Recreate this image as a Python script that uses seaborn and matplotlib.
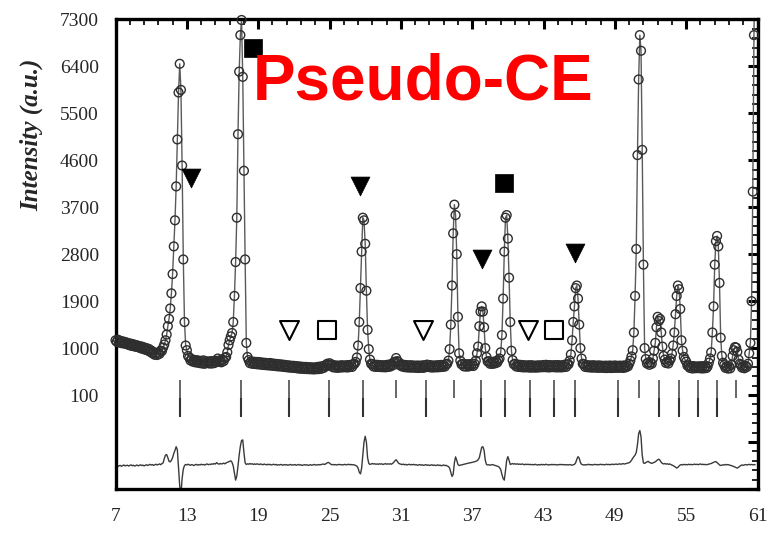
import numpy as np
import pandas as pd
import matplotlib
matplotlib.use("Agg")
import matplotlib.pyplot as plt
import seaborn as sns

# ---------------- data ----------------
two_theta_start = 7.0   # first sampled angle (deg)
two_theta_step = 0.1    # sampling step (deg)

# observed intensity, one row per degree (x.0 ... x.9)
intensity_obs = [
    1150, 1120, 1162, 1108, 1140, 1095, 1130, 1088, 1118, 1080,   # 7
    1102, 1060, 1090, 1045, 1080, 1038, 1066, 1025, 1055, 1018,   # 8
    1040, 998, 1030, 985, 1015, 968, 1000, 955, 985, 930,         # 9
    955, 900, 925, 872, 905, 868, 915, 890, 950, 945,             # 10
    1010, 1070, 1150, 1260, 1420, 1560, 1760, 2050, 2420, 2950,   # 11
    3450, 4100, 5000, 5900, 6450, 5950, 4500, 2700, 1500, 1050,   # 12
    960, 850, 820, 765, 790, 740, 775, 728, 770, 722,             # 13
    760, 712, 755, 705, 765, 700, 748, 718, 742, 705,             # 14
    750, 705, 748, 712, 758, 735, 800, 740, 770, 728,             # 15
    775, 752, 815, 830, 920, 1060, 1150, 1225, 1290, 1500,        # 16
    2000, 2650, 3500, 5100, 6300, 7000, 7290, 6200, 4400, 2700,   # 17
    1100, 830, 770, 712, 745, 700, 740, 696, 735, 690,            # 18
    735, 688, 728, 680, 722, 676, 718, 672, 712, 668,             # 19
    715, 665, 705, 660, 700, 654, 696, 650, 690, 648,             # 20
    685, 640, 680, 636, 672, 630, 668, 626, 662, 622,             # 21
    660, 618, 655, 612, 650, 606, 645, 604, 640, 600,             # 22
    640, 598, 636, 596, 632, 594, 630, 592, 628, 596,             # 23
    640, 598, 646, 604, 652, 620, 668, 650, 700, 676,             # 24
    710, 660, 685, 632, 670, 626, 666, 622, 664, 628,             # 25
    672, 630, 668, 634, 670, 628, 676, 636, 680, 640,             # 26
    690, 700, 735, 820, 1050, 1500, 2150, 2850, 3500, 3450,       # 27
    3000, 2100, 1350, 980, 780, 700, 690, 648, 682, 640,          # 28
    680, 640, 676, 636, 672, 634, 670, 632, 678, 638,             # 29
    684, 646, 692, 668, 730, 740, 810, 750, 735, 672,             # 30
    690, 648, 682, 636, 676, 630, 670, 628, 672, 626,             # 31
    668, 626, 664, 622, 666, 620, 664, 624, 668, 622,             # 32
    672, 636, 684, 640, 676, 630, 668, 628, 666, 632,             # 33
    670, 632, 674, 636, 678, 640, 676, 646, 690, 700,             # 34
    760, 980, 1450, 2200, 3200, 3750, 3550, 2800, 1600, 900,      # 35
    760, 690, 700, 650, 694, 646, 690, 648, 692, 660,             # 36
    700, 658, 700, 760, 900, 1030, 1420, 1700, 1800, 1700,        # 37
    1400, 1000, 830, 745, 750, 700, 735, 698, 740, 706,           # 38
    748, 722, 765, 800, 920, 1250, 1950, 2850, 3500, 3550,        # 39
    3100, 2350, 1500, 950, 770, 690, 700, 648, 684, 640,          # 40
    680, 636, 676, 630, 670, 632, 668, 630, 672, 626,             # 41
    672, 628, 664, 626, 666, 628, 670, 632, 668, 634,             # 42
    676, 636, 680, 632, 676, 630, 672, 636, 670, 634,             # 43
    674, 630, 676, 632, 668, 630, 672, 636, 684, 640,             # 44
    690, 690, 760, 880, 1150, 1500, 1800, 2150, 2200, 1950,       # 45
    1450, 1000, 800, 700, 690, 640, 676, 634, 670, 630,           # 46
    668, 626, 672, 628, 664, 624, 668, 622, 666, 626,             # 47
    660, 620, 664, 618, 662, 622, 666, 618, 660, 622,             # 48
    668, 624, 660, 622, 664, 626, 662, 620, 668, 630,             # 49
    668, 650, 700, 760, 840, 960, 1300, 2000, 2900, 4700,         # 50
    6150, 7000, 6700, 4800, 2600, 1000, 790, 705, 725, 680,       # 51
    725, 700, 800, 950, 1100, 1400, 1600, 1520, 1560, 1300,       # 52
    1030, 850, 780, 715, 740, 705, 760, 800, 890, 1050,           # 53
    1300, 1650, 2000, 2200, 2130, 1750, 1150, 950, 830, 780,      # 54
    740, 665, 670, 622, 652, 610, 656, 614, 646, 616,             # 55
    650, 616, 652, 610, 654, 612, 646, 618, 650, 720,             # 56
    800, 920, 1300, 1800, 2600, 3050, 3150, 2950, 2250, 1200,     # 57
    850, 720, 675, 622, 652, 608, 654, 612, 680, 850,             # 58
    960, 1020, 1010, 930, 780, 700, 675, 625, 656, 614,           # 59
    660, 640, 700, 900, 1100, 1900, 4000, 7000, 9000,             # 60
]

# difference curve (Yobs - Ycalc, shifted), same sampling
difference = [
    -1262, -1250, -1270, -1255, -1248, -1265, -1252, -1240, -1258, -1250,  # 7
    -1245, -1260, -1248, -1238, -1255, -1244, -1262, -1250, -1240, -1256,  # 8
    -1248, -1236, -1252, -1242, -1258, -1246, -1235, -1250, -1240, -1228,  # 9
    -1242, -1232, -1248, -1236, -1225, -1240, -1230, -1220, -1235, -1215,  # 10
    -1200, -1120, -1050, -1040, -1100, -1170, -1180, -1150, -1100, -1020,  # 11
    -960, -890, -950, -1300, -1650, -1800, -1500, -1320, -1250, -1230,     # 12
    -1240, -1225, -1238, -1246, -1232, -1240, -1250, -1236, -1228, -1244,  # 13
    -1232, -1240, -1226, -1236, -1230, -1242, -1228, -1220, -1235, -1226,  # 14
    -1230, -1218, -1226, -1212, -1222, -1195, -1215, -1225, -1212, -1220,  # 15
    -1215, -1205, -1218, -1200, -1190, -1180, -1170, -1160, -1190, -1260,  # 16
    -1400, -1530, -1450, -1260, -1050, -880, -770, -760, -1000, -1200,     # 17
    -1230, -1218, -1226, -1212, -1224, -1216, -1230, -1220, -1228, -1218,  # 18
    -1225, -1232, -1220, -1228, -1236, -1222, -1230, -1238, -1226, -1234,  # 19
    -1228, -1240, -1232, -1226, -1238, -1230, -1244, -1234, -1240, -1230,  # 20
    -1236, -1244, -1232, -1240, -1234, -1246, -1238, -1230, -1242, -1236,  # 21
    -1240, -1232, -1246, -1238, -1230, -1244, -1236, -1248, -1240, -1234,  # 22
    -1242, -1236, -1248, -1240, -1234, -1246, -1238, -1230, -1242, -1236,  # 23
    -1240, -1232, -1238, -1230, -1226, -1222, -1230, -1215, -1200, -1190,  # 24
    -1205, -1225, -1236, -1230, -1238, -1232, -1240, -1234, -1228, -1236,  # 25
    -1232, -1240, -1234, -1228, -1238, -1232, -1226, -1236, -1230, -1238,  # 26
    -1234, -1240, -1250, -1262, -1300, -1380, -1410, -1300, -1050, -800,   # 27
    -690, -800, -1100, -1210, -1230, -1220, -1212, -1222, -1216, -1226,    # 28
    -1220, -1228, -1216, -1224, -1218, -1230, -1222, -1214, -1226, -1218,  # 29
    -1224, -1216, -1226, -1210, -1190, -1160, -1140, -1170, -1205, -1218,  # 30
    -1226, -1232, -1224, -1236, -1228, -1240, -1232, -1226, -1238, -1230,  # 31
    -1236, -1228, -1240, -1234, -1246, -1238, -1232, -1244, -1236, -1248,  # 32
    -1240, -1234, -1246, -1238, -1250, -1242, -1236, -1248, -1240, -1252,  # 33
    -1244, -1238, -1250, -1242, -1256, -1248, -1240, -1252, -1246, -1260,  # 34
    -1270, -1300, -1380, -1460, -1420, -1200, -1085, -1150, -1230, -1250,  # 35
    -1244, -1238, -1232, -1226, -1220, -1214, -1210, -1204, -1200, -1196,  # 36
    -1190, -1185, -1178, -1170, -1160, -1140, -1100, -1000, -900, -890,    # 37
    -960, -1150, -1230, -1240, -1236, -1244, -1238, -1232, -1240, -1250,   # 38
    -1256, -1262, -1270, -1290, -1330, -1420, -1500, -1530, -1350, -1150,  # 39
    -1080, -1150, -1230, -1220, -1212, -1224, -1216, -1226, -1218, -1228,  # 40
    -1222, -1230, -1220, -1228, -1236, -1224, -1232, -1226, -1234, -1228,  # 41
    -1236, -1230, -1238, -1226, -1234, -1242, -1232, -1240, -1228, -1236,  # 42
    -1230, -1238, -1226, -1234, -1240, -1232, -1238, -1228, -1236, -1230,  # 43
    -1238, -1232, -1240, -1234, -1228, -1236, -1230, -1238, -1232, -1240,  # 44
    -1234, -1240, -1232, -1238, -1244, -1236, -1228, -1200, -1130, -1080,  # 45
    -1110, -1190, -1228, -1236, -1242, -1234, -1240, -1232, -1226, -1238,  # 46
    -1232, -1240, -1234, -1228, -1236, -1230, -1238, -1232, -1226, -1234,  # 47
    -1230, -1238, -1232, -1226, -1234, -1228, -1236, -1230, -1224, -1232,  # 48
    -1228, -1222, -1230, -1224, -1218, -1226, -1220, -1214, -1222, -1216,  # 49
    -1210, -1204, -1196, -1180, -1150, -1110, -1080, -1050, -1000, -850,   # 50
    -640, -580, -700, -1050, -1200, -1210, -1195, -1180, -1170, -1190,     # 51
    -1200, -1210, -1200, -1190, -1180, -1160, -1140, -1130, -1150, -1190,  # 52
    -1210, -1220, -1212, -1224, -1216, -1228, -1220, -1230, -1240, -1252,  # 53
    -1265, -1280, -1300, -1285, -1260, -1240, -1232, -1240, -1228, -1236,  # 54
    -1230, -1238, -1226, -1234, -1228, -1236, -1230, -1224, -1232, -1226,  # 55
    -1234, -1228, -1220, -1232, -1226, -1234, -1228, -1236, -1230, -1224,  # 56
    -1218, -1212, -1200, -1190, -1180, -1175, -1195, -1215, -1240, -1250,  # 57
    -1244, -1236, -1242, -1230, -1238, -1232, -1240, -1246, -1252, -1260,  # 58
    -1270, -1280, -1290, -1300, -1285, -1265, -1250, -1240, -1246, -1238,  # 59
    -1232, -1240, -1234, -1228, -1236, -1230, -1238, -1232, -1236,         # 60
]

# Bragg reflection positions (deg)
bragg_upper = [12.43, 17.52, 21.57, 24.92, 27.85, 30.58, 33.10, 35.44, 37.70,
               39.80, 41.86, 43.84, 45.66, 49.29, 51.02, 52.70, 54.37, 55.99,
               57.58, 59.17]
bragg_lower = [12.43, 17.52, 21.57, 24.92, 27.85, 33.10, 37.70, 39.80, 41.86,
               43.84, 45.66, 49.29, 52.70, 54.37, 55.99, 57.58]

# phase markers
marker_x = [13.33, 18.55, 21.57, 24.75, 27.53, 32.86, 37.80, 39.71, 41.72, 43.90, 45.62]
marker_y = [4256, 6750, 1348, 1348, 4110, 1348, 2715, 4170, 1348, 1348, 2830]
marker_shape = ["v", "s", "v", "s", "v", "v", "v", "s", "v", "s", "v"]
marker_filled = [True, True, False, False, True, False, True, True, False, False, True]

x_ticks = [7, 13, 19, 25, 31, 37, 43, 49, 55, 61]
y_ticks = [-1700, -800, 100, 1000, 1900, 2800, 3700, 4600, 5500, 6400, 7300]
y_ticklabels = ["", "", "100", "1000", "1900", "2800", "3700", "4600", "5500", "6400", "7300"]
ylabel_text = "Intensity (a.u.)"
title_text = "Pseudo-CE"

# ---------------- figure ----------------
sns.set_style("white")
plt.rcParams["font.family"] = ["Liberation Serif", "DejaVu Serif"]

x_obs = np.round(two_theta_start + two_theta_step * np.arange(len(intensity_obs)), 2)
x_diff = np.round(two_theta_start + two_theta_step * np.arange(len(difference)), 2)
obs = pd.DataFrame({"tt": x_obs, "I": intensity_obs})
dif = pd.DataFrame({"tt": x_diff, "D": difference})

fig = plt.figure(figsize=(7.78, 5.33), dpi=100)
ax = fig.add_axes([0.1485, 0.0826, 0.8252, 0.8809])
ax.set_xlim(7, 61)
ax.set_ylim(-1700, 7300)

# calculated profile (line) and observed points (open circles)
sns.lineplot(data=obs, x="tt", y="I", ax=ax, color="#5a5a5a", linewidth=1.0,
             estimator=None, sort=False, zorder=2)
vis = obs[obs["I"] <= 7350]
sns.scatterplot(data=vis, x="tt", y="I", ax=ax, marker="o", s=40,
                facecolor="none", edgecolor="#2e2e2e", linewidth=1.0,
                clip_on=False, zorder=3)

# difference curve
sns.lineplot(data=dif, x="tt", y="D", ax=ax, color="#3a3a3a", linewidth=1.0,
             estimator=None, sort=False, zorder=2)

# Bragg ticks
ax.vlines(bragg_upper, 45, 390, colors="#5a5a5a", linewidth=1.3, zorder=2)
ax.vlines(bragg_lower, -320, 45, colors="#333333", linewidth=1.5, zorder=2)

# phase markers
mk = pd.DataFrame({"x": marker_x, "y": marker_y, "m": marker_shape, "f": marker_filled})
for (m, f), g in mk.groupby(["m", "f"]):
    size = 185 if m == "v" else 165
    if f:
        sns.scatterplot(data=g, x="x", y="y", ax=ax, marker=m, s=size,
                        color="black", edgecolor="black", linewidth=0.5, zorder=5)
    else:
        sns.scatterplot(data=g, x="x", y="y", ax=ax, marker=m, s=size,
                        facecolor="white", edgecolor="black", linewidth=1.5, zorder=5)

# big red label
ax.text(18.55, 5757, title_text, color="#ff0000", fontsize=46, fontweight="bold",
        family=["Liberation Sans", "DejaVu Sans"], ha="left", va="baseline", zorder=6)

# axes styling
ax.set_xticks(x_ticks)
ax.set_xticklabels([str(t) for t in x_ticks])
ax.set_yticks(y_ticks)
ax.set_yticklabels(y_ticklabels)
ax.set_xticks(np.arange(7, 61.01, 1.2), minor=True)
ax.set_yticks(np.arange(-1700, 7301, 180), minor=True)
ax.tick_params(which="major", direction="in", length=7.5, width=2.2,
               top=True, right=True, labelsize=14, color="black")
ax.tick_params(which="minor", direction="in", length=4.2, width=1.2,
               top=True, right=True, color="black")
ax.tick_params(axis="x", which="major", pad=14)
ax.tick_params(axis="y", which="major", pad=12)
for sp in ax.spines.values():
    sp.set_linewidth(2.4)
    sp.set_color("black")

ax.set_xlabel("")
ax.set_ylabel(ylabel_text, fontsize=18, fontweight="bold", fontstyle="italic")
ax.yaxis.set_label_coords(-0.113, 0.755)

fig.savefig("out.png", dpi=100)
